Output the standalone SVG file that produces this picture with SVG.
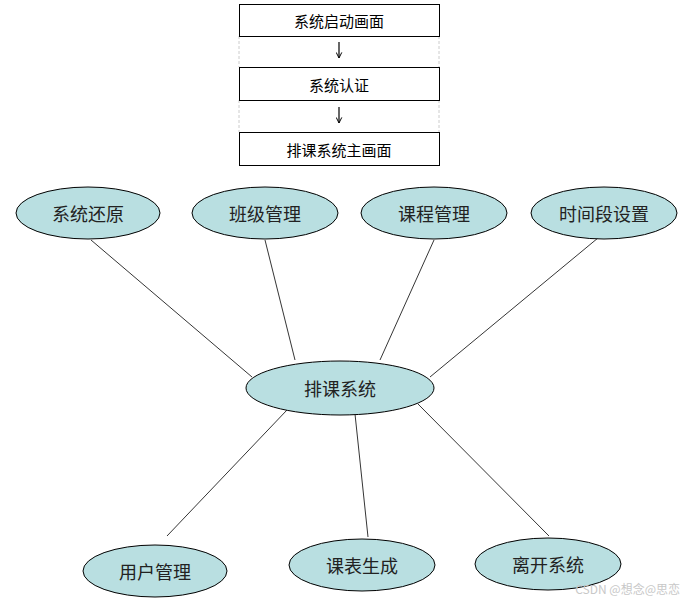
<svg xmlns="http://www.w3.org/2000/svg" width="692" height="604" viewBox="0 0 692 604">
<defs>
<marker id="ah" viewBox="0 0 10 10" refX="9" refY="5" markerWidth="7" markerHeight="7" orient="auto" markerUnits="userSpaceOnUse">
<path d="M1,1 L9,5 L1,9" fill="none" stroke="#000" stroke-width="1.4"/>
</marker>
<style>
.box{fill:#fff;stroke:#000;stroke-width:1}
.bt{font-family:"Noto Sans CJK SC","Liberation Sans",sans-serif;font-size:15px;fill:#000;text-anchor:middle;dominant-baseline:central}
.ell{fill:#b9dfe1;stroke:#000;stroke-width:1}
.et{font-family:"Noto Sans CJK SC","Liberation Sans",sans-serif;font-size:18px;fill:#222;text-anchor:middle;dominant-baseline:central}
.ln{stroke:#000;stroke-width:0.8;fill:none}
.dash{stroke:#ccc;stroke-width:1;stroke-dasharray:3,2}
.arr{stroke:#000;stroke-width:1.2;marker-end:url(#ah)}
</style>
</defs>
<rect width="692" height="604" fill="#fff"/>
<g id="frame">
<line class="dash" x1="239" y1="36" x2="239" y2="67"/>
<line class="dash" x1="439" y1="36" x2="439" y2="67"/>
<line class="dash" x1="239" y1="100" x2="239" y2="132"/>
<line class="dash" x1="439" y1="100" x2="439" y2="132"/>
</g>
<g id="connectors">
<line class="arr" x1="339" y1="42" x2="339" y2="58"/>
<line class="arr" x1="339" y1="107" x2="339" y2="123"/>
<line class="ln" x1="91" y1="240" x2="252" y2="377"/>
<line class="ln" x1="265" y1="240" x2="295" y2="360"/>
<line class="ln" x1="434" y1="240" x2="380" y2="360"/>
<line class="ln" x1="604" y1="233" x2="430" y2="377"/>
<line class="ln" x1="287" y1="410" x2="167" y2="536"/>
<line class="ln" x1="355" y1="414" x2="368" y2="537"/>
<line class="ln" x1="418" y1="404" x2="549" y2="536"/>
</g>
<g id="box-start"><rect class="box" x="239.5" y="4.5" width="200" height="32"/><text class="bt" x="339" y="20">系统启动画面</text></g>
<g id="box-auth"><rect class="box" x="239.5" y="67.5" width="200" height="33"/><text class="bt" x="339" y="84">系统认证</text></g>
<g id="box-main"><rect class="box" x="239.5" y="132.5" width="200" height="33"/><text class="bt" x="339" y="149">排课系统主画面</text></g>
<g id="n-restore"><ellipse class="ell" cx="88" cy="213" rx="72" ry="26"/><text class="et" x="88" y="213">系统还原</text></g>
<g id="n-class"><ellipse class="ell" cx="265" cy="213" rx="73" ry="26"/><text class="et" x="265" y="213">班级管理</text></g>
<g id="n-course"><ellipse class="ell" cx="434" cy="213" rx="73" ry="26"/><text class="et" x="434" y="213">课程管理</text></g>
<g id="n-time"><ellipse class="ell" cx="604" cy="213" rx="73" ry="26"/><text class="et" x="604" y="213">时间段设置</text></g>
<g id="n-center"><ellipse class="ell" cx="340" cy="388" rx="94" ry="27"/><text class="et" x="340" y="388">排课系统</text></g>
<g id="n-user"><ellipse class="ell" cx="155" cy="571" rx="72" ry="26"/><text class="et" x="155" y="571">用户管理</text></g>
<g id="n-table"><ellipse class="ell" cx="362" cy="565" rx="73" ry="26"/><text class="et" x="362" y="565">课表生成</text></g>
<g id="n-exit"><ellipse class="ell" cx="548" cy="564" rx="73" ry="26"/><text class="et" x="548" y="564">离开系统</text></g>
<text x="680" y="594" text-anchor="end" font-family="'Noto Sans CJK SC','Liberation Sans',sans-serif" font-size="12" fill="#c8c8c8">CSDN @想念@思恋</text>
</svg>
